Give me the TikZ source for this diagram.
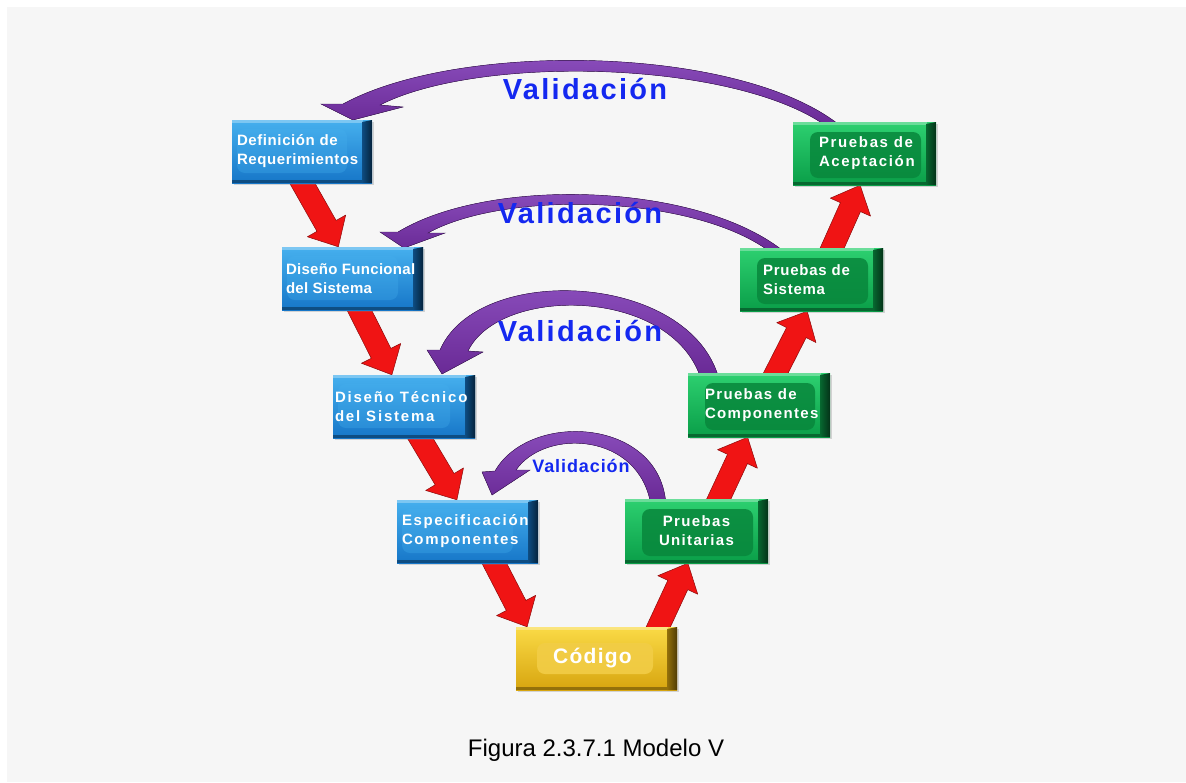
\documentclass[tikz,border=0pt]{standalone}
\usepackage{fontspec}
\setmainfont{Liberation Sans}
\newfontfamily\bsf{Liberation Sans}
\usetikzlibrary{calc,shadows}
\pgfdeclarelayer{bg}
\pgfsetlayers{bg,main}

\definecolor{bgray}{RGB}{246,246,246}
\definecolor{vblue}{RGB}{20,40,240}
\definecolor{purp}{RGB}{104,40,148}
\definecolor{purpl}{RGB}{145,85,196}
\definecolor{redA}{RGB}{240,20,20}
\definecolor{redD}{RGB}{140,10,10}
\definecolor{blueT}{RGB}{70,176,238}
\definecolor{blueB}{RGB}{22,118,200}
\definecolor{blueD}{RGB}{5,35,60}
\definecolor{greenT}{RGB}{45,208,112}
\definecolor{greenB}{RGB}{10,158,72}
\definecolor{greenD}{RGB}{4,50,24}
\definecolor{greenI}{RGB}{8,135,60}
\definecolor{goldT}{RGB}{250,218,70}
\definecolor{goldB}{RGB}{215,165,15}
\definecolor{goldD}{RGB}{80,60,5}
\definecolor{goldI}{RGB}{242,205,70}

\newcommand\bt[1]{\bsf\bfseries\fontsize{15}{19}\selectfont\addfontfeature{LetterSpace=#1}}
\newcommand\vt[2]{\bsf\bfseries\fontsize{#1}{#1}\selectfont\addfontfeature{LetterSpace=#2}}

% dark, mid, inner colour, inner opacity, inner insets l t r b
\newcommand\boxdeco[8]{%
  \fill[#3, opacity=#4, rounded corners=8pt]
    ([shift={(#5pt,-#6pt)}]path picture bounding box.north west) rectangle
    ([shift={(-#7pt,#8pt)}]path picture bounding box.south east);
  \fill[white, opacity=0.3] (path picture bounding box.north west) rectangle
    ([shift={(-9pt,-3pt)}]path picture bounding box.north east);
  \fill[#1, opacity=0.5] (path picture bounding box.south west) rectangle
    ([shift={(-10pt,3pt)}]path picture bounding box.south east);
  \shade[left color=#2, right color=#1]
    ([xshift=-10pt,yshift=-2pt]path picture bounding box.north east) --
    (path picture bounding box.north east) --
    (path picture bounding box.south east) --
    ([xshift=-10pt]path picture bounding box.south east) -- cycle;
}

\newcommand\redarr[2]{%
  \path #1 coordinate (ra) #2 coordinate (rb);
  \path ($(rb)!24pt!(ra)$) coordinate (rh);
  \filldraw[redarrow]
    ($(ra)!11pt!90:(rb)$) -- ($(rh)!11pt!90:(rb)$) -- ($(rh)!22pt!90:(rb)$) --
    (rb) -- ($(rh)!22pt!-90:(rb)$) -- ($(rh)!11pt!-90:(rb)$) --
    ($(ra)!11pt!-90:(rb)$) -- cycle;
}

\tikzset{
  boxbase/.style={rectangle, inner sep=0pt, minimum height=63pt,
    drop shadow={shadow xshift=1.5pt, shadow yshift=-1.5pt, opacity=0.3}},
  bluebox/.style={boxbase, minimum width=#1, top color=blueT, bottom color=blueB,
    path picture={\boxdeco{blueD}{blueB!50!blueD}{blueT}{0.3}{5}{9}{25}{10}}},
  greenbox/.style={boxbase, minimum width=#1, top color=greenT, bottom color=greenB,
    path picture={\boxdeco{greenD}{greenB!50!greenD}{greenI}{0.85}{17}{10}{15}{7}}},
  goldbox/.style={boxbase, minimum width=#1, top color=goldT, bottom color=goldB,
    path picture={\boxdeco{goldD}{goldB!50!goldD}{goldI}{0.9}{21}{16}{24}{16}}},
  boxtext/.style={text=white, align=left, inner sep=0pt},
  valtext/.style={text=vblue, inner sep=0pt, anchor=base},
  redarrow/.style={fill=redA, draw=redD, line width=0.5pt, line join=round},
  purparrow/.style={top color=purpl, bottom color=purp, draw=purp!60!black, line width=0.4pt},
}

\begin{document}
\begin{tikzpicture}[x=1pt,y=-1pt]
\useasboundingbox (0,0) rectangle (1186,782);
\begin{pgfonlayer}{bg}
  \fill[white] (0,0) rectangle (1186,782);
  \fill[bgray] (7,7) rectangle (1186,782);
\end{pgfonlayer}

% boxes
\node[bluebox=140pt] (b1) at (302,151.5) {};
\node[bluebox=141pt] (b2) at (352.5,278.5) {};
\node[bluebox=142pt] (b3) at (404,406.5) {};
\node[bluebox=141pt] (b4) at (467.5,531.5) {};
\node[goldbox=161pt] (b5) at (596.5,658.5) {};
\node[greenbox=143pt, minimum height=64pt] (b6) at (696.5,531) {};
\node[greenbox=142pt, minimum height=64pt] (b7) at (759,405) {};
\node[greenbox=143pt] (b8) at (811.5,279.5) {};
\node[greenbox=143pt] (b9) at (864.5,153.5) {};

% box texts
\node[boxtext, font=\bt{4}, anchor=west] (t1) at ([xshift=5pt]b1.west) {Definición de\\Requerimientos};
\node[boxtext, font=\bt{2}, anchor=west] (t2) at ([xshift=4pt]b2.west) {Diseño Funcional\\del Sistema};
\node[boxtext, font=\bt{12}, anchor=west] (t3) at ([xshift=2pt]b3.west) {Diseño Técnico\\del Sistema};
\node[boxtext, font=\bt{11}, anchor=west] (t4) at ([xshift=5pt]b4.west) {Especificación\\Componentes};
\node[boxtext, font=\vt{21}{6}] (t5) at ([xshift=-4pt]b5.center) {Código};
\node[boxtext, font=\bt{9}, align=center] (t6) at (b6.center) {Pruebas\\Unitarias};
\node[boxtext, font=\bt{9}, anchor=west] (t7) at ([xshift=17pt]b7.west) {Pruebas de\\Componentes};
\node[boxtext, font=\bt{5}, anchor=west] (t8) at ([xshift=23pt]b8.west) {Pruebas de\\Sistema};
\node[boxtext, font=\bt{11}, anchor=west] (t9) at ([xshift=26pt]b9.west) {Pruebas de\\Aceptación};

% connectors
\begin{pgfonlayer}{bg}
\redarr{($(b1.south west)!0.47!(b1.south east)+(0,-8)$)}{($(b2.north west)!0.40!(b2.north east)$)}
\redarr{($(b2.south west)!0.52!(b2.south east)+(0,-8)$)}{($(b3.north west)!0.415!(b3.north east)$)}
\redarr{($(b3.south west)!0.58!(b3.south east)+(0,-8)$)}{($(b4.north west)!0.425!(b4.north east)$)}
\redarr{($(b4.south west)!0.66!(b4.south east)+(0,-8)$)}{($(b5.north west)!0.07!(b5.north east)$)}
\redarr{($(b5.north west)!0.86!(b5.north east)+(0,8)$)}{($(b6.south west)!0.44!(b6.south east)$)}
\redarr{($(b6.north west)!0.63!(b6.north east)+(0,8)$)}{($(b7.south west)!0.42!(b7.south east)$)}
\redarr{($(b7.north west)!0.59!(b7.north east)+(0,8)$)}{($(b8.south west)!0.47!(b8.south east)$)}
\redarr{($(b8.north west)!0.62!(b8.north east)+(0,8)$)}{($(b9.south west)!0.47!(b9.south east)$)}

% validation arcs
\fill[purparrow] (843,128) .. controls (745,45) and (460,40) .. (343,104) -- (321,104) -- (353,120) -- (403,107) -- (380,105) .. controls (480,54) and (738,60) .. (829,128) -- cycle;
\fill[purparrow] (787,254) .. controls (702,182) and (490,176) .. (398,232) -- (380,232) -- (404,248) -- (445,233) -- (428,233) .. controls (505,190) and (697,194) .. (773,254) -- cycle;
\fill[purparrow] (719,379) .. controls (690,272) and (478,262) .. (440,350) -- (427,350) -- (442,374) -- (483,352) -- (468,351) .. controls (500,285) and (672,287) .. (701,379) -- cycle;
\fill[purparrow] (666,506) .. controls (662,418) and (530,410) .. (495,471) -- (482,472) -- (492,495) -- (530,470) -- (516,470) .. controls (545,428) and (640,432) .. (651,506) -- cycle;
\end{pgfonlayer}

\node[valtext, font=\vt{29}{8}] (v1) at (585,99) {Validación};
\node[valtext, font=\vt{29}{8}] (v2) at (580,223) {Validación};
\node[valtext, font=\vt{29}{8}] (v3) at (580,341) {Validación};
\node[valtext, font=\vt{18}{5}] (v4) at (581,472) {Validación};

\node[anchor=base, inner sep=0pt, font=\fontsize{24}{28}\selectfont] (cap) at (596,756) {Figura 2.3.7.1 Modelo V};
\end{tikzpicture}
\end{document}
